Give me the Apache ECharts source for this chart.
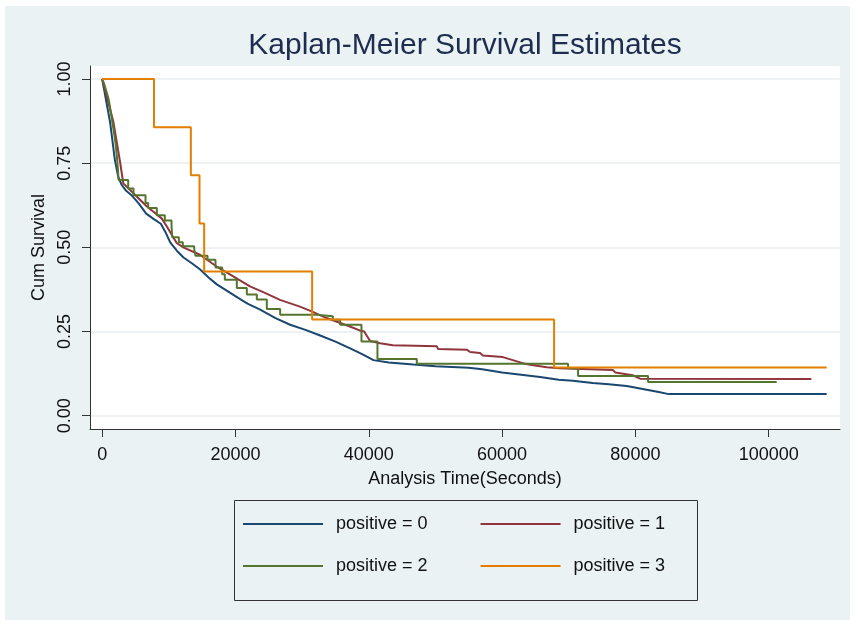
<!DOCTYPE html>
<html>
<head>
<meta charset="utf-8">
<script src="https://cdn.jsdelivr.net/npm/echarts@6/dist/echarts.min.js"></script>
<style>
html,body{margin:0;padding:0;background:#fff;}
#chart{width:855px;height:625px;}
</style>
</head>
<body>
<div id="chart"></div>
<script>
// ---- data ----
const seriesNames = ['positive = 0', 'positive = 1', 'positive = 2', 'positive = 3'];
const seriesColors = ['#1a476f', '#90353b', '#55752f', '#e37e00'];
const xTickValues = [0, 20000, 40000, 60000, 80000, 100000];
const yTickValues = [0, 0.25, 0.5, 0.75, 1];

// positive = 0 (many events, drawn as a continuous trace)
const survPos0 = [[0,1.0],[1200,0.87],[1900,0.76],[2400,0.71],[2900,0.686],[3600,0.668],[4400,0.655],[5500,0.63],[6600,0.60],[7800,0.583],[8800,0.57],[9500,0.545],[10200,0.515],[11200,0.49],[12200,0.47],[13500,0.452],[14700,0.434],[16000,0.41],[17200,0.39],[18800,0.37],[20400,0.35],[21800,0.333],[23700,0.315],[26000,0.29],[28200,0.27],[30500,0.255],[32700,0.238],[35000,0.22],[37200,0.2],[39000,0.183],[40700,0.165],[43000,0.158],[46700,0.152],[50000,0.147],[55000,0.142],[57000,0.138],[60000,0.128],[65700,0.115],[68500,0.107],[70600,0.104],[73600,0.097],[76000,0.093],[78700,0.088],[81700,0.077],[83500,0.07],[85000,0.064],[108700,0.064]];

// positive = 1 (trace with visible step corners)
const survPos1 = [[0,1.0],[1665,0.874],[2670,0.755],[3165,0.69],[4920,0.656],[6675,0.622],[8925,0.586],[9675,0.5625],[11175,0.513],[12165,0.50],[14670,0.478],[17175,0.443],[19665,0.414],[22170,0.384],[24420,0.365],[26670,0.344],[29670,0.324],[31425,0.31],[33675,0.29],[37170,0.265],[38800,0.252],[39300,0.25],[40200,0.222],[41700,0.215],[43600,0.209],[50200,0.206],[50400,0.198],[54700,0.196],[55200,0.189],[56700,0.186],[57100,0.179],[60100,0.174],[63100,0.156],[64200,0.151],[66700,0.144],[68700,0.141],[76600,0.136],[77000,0.128],[79600,0.120],[80700,0.110],[106400,0.109]];

// positive = 2 (event time, survival after the event)
const survPos2 = [[0,1],[300,0.985],[600,0.965],[900,0.945],[1100,0.925],[1300,0.9],[1500,0.875],[1700,0.85],[1900,0.824],[2050,0.80],[2200,0.77],[2350,0.735],[2450,0.70],[3900,0.675],[4700,0.655],[6500,0.632],[6900,0.617],[8200,0.595],[9400,0.58],[10400,0.567],[10500,0.53],[11500,0.515],[12100,0.503],[13800,0.495],[14000,0.475],[15800,0.463],[17000,0.44],[18000,0.42],[18400,0.404],[20200,0.379],[21700,0.36],[23200,0.345],[24700,0.3167],[26700,0.2997],[32200,0.295],[34600,0.285],[35700,0.27],[38900,0.22],[41300,0.168],[47200,0.154],[69900,0.141],[71400,0.118],[81900,0.10],[101200,0.10]];

// positive = 3 (event time, survival after the event)
const survPos3 = [[0,1],[7770,0.857],[13300,0.714],[14600,0.571],[15300,0.4286],[31500,0.2857],[67800,0.1429],[108700,0.1429]];

const fontFam = '"Liberation Sans", Arial, "DejaVu Sans", sans-serif';
const bgColor = '#eaf2f3';

const chart = echarts.init(document.getElementById('chart'), null, {renderer: 'canvas'});

function lineSeries(idx, data, step) {
  return {
    name: seriesNames[idx],
    type: 'line',
    data: data,
    step: step,
    symbol: 'none',
    showSymbol: false,
    smooth: false,
    lineStyle: {color: seriesColors[idx], width: 2},
    itemStyle: {color: seriesColors[idx]},
    z: 2 + idx
  };
}

const legendBase = {
  left: 243, padding: 0,
  orient: 'horizontal',
  icon: 'rect', itemWidth: 80, itemHeight: 2, itemGap: 53,
  textStyle: {fontFamily: fontFam, fontSize: 18, color: '#111', padding: [0,0,0,8]},
  selectedMode: false
};

const option = {
  animation: false,
  backgroundColor: '#ffffff',
  graphic: [
    {type: 'rect', z: -10, silent: true, shape: {x: 5, y: 6, width: 845, height: 614}, style: {fill: bgColor}},
    {type: 'rect', z: -5, silent: true, shape: {x: 234.5, y: 500.5, width: 463, height: 100}, style: {fill: bgColor, stroke: '#333', lineWidth: 1}}
  ],
  title: {
    text: 'Kaplan-Meier Survival Estimates',
    left: 465,
    top: 31,
    padding: 0,
    textAlign: 'center',
    textStyle: {fontFamily: fontFam, fontSize: 30, fontWeight: 'normal', color: '#1e2d4f'}
  },
  grid: {
    left: 90, right: 15, top: 66, bottom: 196,
    show: true, backgroundColor: '#ffffff', borderWidth: 0,
    containLabel: false
  },
  legend: [
    Object.assign({}, legendBase, {data: [seriesNames[0], seriesNames[1]], top: 515}),
    Object.assign({}, legendBase, {data: [seriesNames[2], seriesNames[3]], top: 557})
  ],
  xAxis: {
    type: 'value',
    min: -1830, max: 110700,
    name: 'Analysis Time(Seconds)',
    nameLocation: 'middle',
    nameGap: 41,
    nameTextStyle: {fontFamily: fontFam, fontSize: 18, color: '#111'},
    axisLine: {show: true, onZero: false, lineStyle: {color: '#333', width: 1}},
    axisTick: {show: true, length: 8, inside: false, customValues: xTickValues, lineStyle: {color: '#333', width: 1}},
    axisLabel: {customValues: xTickValues, margin: 17, fontFamily: fontFam, fontSize: 18, color: '#111',
      formatter: function (v) { return String(Math.round(v)); }},
    splitLine: {show: false}
  },
  yAxis: {
    type: 'value',
    min: -0.0396, max: 1.0387,
    name: 'Cum Survival',
    nameLocation: 'middle',
    nameGap: 39,
    nameRotate: 90,
    nameTextStyle: {fontFamily: fontFam, fontSize: 18, color: '#111'},
    axisLine: {show: true, onZero: false, lineStyle: {color: '#333', width: 1}},
    axisTick: {show: true, length: 8, inside: false, customValues: yTickValues, lineStyle: {color: '#333', width: 1}},
    axisLabel: {customValues: yTickValues, margin: 16, rotate: 90, fontFamily: fontFam, fontSize: 18, color: '#111',
      formatter: function (v) { return v.toFixed(2); }},
    splitLine: {show: true, lineStyle: {color: '#e8eef0', width: 1.5}}
  },
  series: [
    lineSeries(0, survPos0, false),
    lineSeries(1, survPos1, false),
    lineSeries(2, survPos2, 'end'),
    lineSeries(3, survPos3, 'end')
  ]
};
chart.setOption(option);
</script>
</body>
</html>
